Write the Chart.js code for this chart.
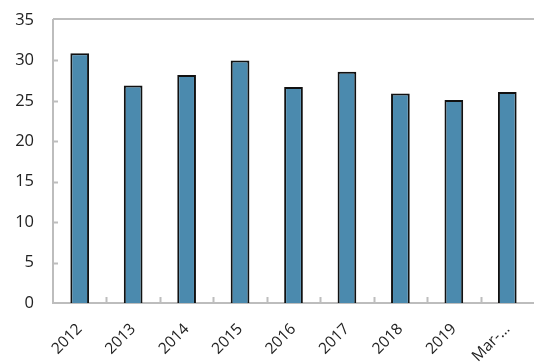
<!DOCTYPE html>
<html>
<head>
<meta charset="utf-8">
<script src="https://cdn.jsdelivr.net/npm/chart.js@4/dist/chart.umd.min.js"></script>
<style>
  html, body { margin: 0; padding: 0; background: #fff; }
  #wrap { width: 534px; height: 362px; }
</style>
</head>
<body>
<div id="wrap"><canvas id="chart"></canvas></div>
<script>
const categories = ['2012', '2013', '2014', '2015', '2016', '2017', '2018', '2019', 'Mar-…'];
const values = [30.9, 26.9, 28.2, 30.0, 26.7, 28.6, 25.9, 25.1, 26.1];
const yTicks = [0, 5, 10, 15, 20, 25, 30, 35];

const axisColor = '#bdbdbd';

// inward tick marks + top frame line
const frameTicks = {
  id: 'frameTicks',
  afterDraw(chart) {
    const { ctx, chartArea, scales } = chart;
    const x = scales.x, y = scales.y;
    ctx.save();
    ctx.strokeStyle = axisColor;
    ctx.lineWidth = 2;
    ctx.beginPath();
    const top = y.getPixelForValue(35) - 1;
    ctx.moveTo(chartArea.left, top);
    ctx.lineTo(chartArea.right, top);
    yTicks.forEach(v => {
      if (v === 0 || v === 35) return;
      const py = Math.round(y.getPixelForValue(v)) + 0.5;
      ctx.moveTo(chartArea.left, py);
      ctx.lineTo(chartArea.left + 5, py);
    });
    for (let i = 1; i < categories.length; i++) {
      const px = Math.round((x.getPixelForValue(i - 1) + x.getPixelForValue(i)) / 2) + 0.5;
      ctx.moveTo(px, chartArea.bottom);
      ctx.lineTo(px, chartArea.bottom - 6);
    }
    ctx.stroke();
    ctx.restore();
  }
};

new Chart(document.getElementById('chart'), {
  type: 'bar',
  data: {
    labels: categories,
    datasets: [{
      data: values,
      backgroundColor: '#4b8aae',
      borderColor: '#111111',
      borderWidth: 2,
      barPercentage: 0.35,
      categoryPercentage: 1.0
    }]
  },
  options: {
    responsive: true,
    maintainAspectRatio: false,
    animation: false,
    layout: { padding: { top: 20, right: 0, left: 0, bottom: 0 } },
    plugins: { legend: { display: false }, tooltip: { enabled: false } },
    scales: {
      x: {
        grid: { display: false, drawTicks: false },
        border: { display: true, color: axisColor, width: 2 },
        afterFit: axis => {
          axis.height = 59;
          axis.paddingLeft = 0;
          axis.paddingRight = 0;
        },
        ticks: {
          color: '#222',
          font: { family: 'Open Sans', size: 15.5 },
          maxRotation: 45,
          minRotation: 45,
          padding: 17,
          autoSkip: false
        }
      },
      y: {
        min: 0,
        max: 35,
        grid: { display: false, drawTicks: false },
        border: { display: true, color: axisColor, width: 2 },
        afterFit: axis => {
          axis.width = 53;
          axis.paddingTop = 0;
          axis.paddingBottom = 0;
        },
        afterBuildTicks: axis => { axis.ticks = yTicks.map(v => ({ value: v })); },
        ticks: {
          color: '#222',
          font: { family: 'Open Sans', size: 16.5 },
          padding: 19
        }
      }
    }
  },
  plugins: [frameTicks]
});
</script>
</body>
</html>
